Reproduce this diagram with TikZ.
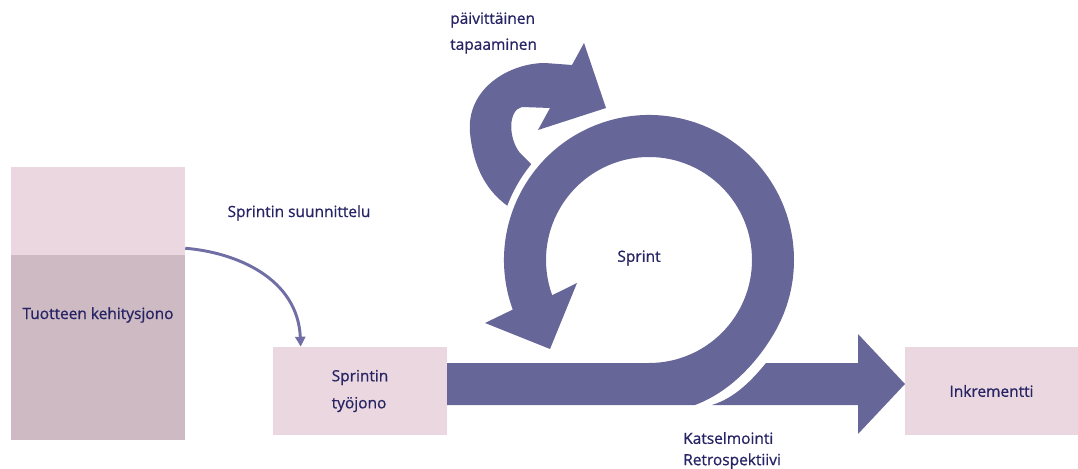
\documentclass[tikz,border=0pt]{standalone}
\usepackage{fontspec}
\setmainfont{Open Sans}[FakeBold=0.8]
\usetikzlibrary{calc,arrows.meta}
\definecolor{pinkA}{RGB}{235,215,223}
\definecolor{pinkB}{RGB}{206,186,194}
\definecolor{scrum}{RGB}{103,102,153}
\definecolor{navy}{RGB}{38,36,100}
\definecolor{conncol}{RGB}{112,110,165}
\begin{document}
\begin{tikzpicture}[x=0.75pt,y=0.75pt,
  lbl/.style={text=navy, font=\fontsize{11.6}{14}\selectfont, inner sep=0},
  box/.style={fill=pinkA, draw=none, inner sep=0, minimum height=66pt},
  conn/.style={draw=conncol, line width=2.2pt, -{Triangle[length=7.5pt,width=7.5pt]}}]
\useasboundingbox (0,0) rectangle (1078,468);
\coordinate (C) at (649,208);
% boxes
\node[box, minimum width=130.5pt] (bt) at (98,257) {};
\node[box, fill=pinkB, minimum width=130.5pt, minimum height=138.75pt] (bb) at (98,120.5) {};
\node[lbl] (tk) at (98,153) {Tuotteen kehitysjono};
\node[box, minimum width=130.5pt] (sbl) at (360,77) {};
\node[lbl, align=left, font=\fontsize{11.6}{20.3}\selectfont] (sblt) at (sbl.center) {Sprintin\\työjono};
\node[box, minimum width=129.75pt] (ink) at (991.5,77) {};
\node[lbl] (inkt) at (ink.center) {Inkrementti};
% outgoing bar
\fill[scrum] (766,105) -- (858,105) -- (858,134) -- (905,84) -- (858,34) -- (858,63) -- (712,63) .. controls (735,70) and (752,88) .. (766,105) -- cycle;
% daily loop
\fill[scrum] (530,250) .. controls (500,262) and (475,285) .. (470,335) .. controls (466,380) and (510,405) .. (545,405) -- (572,403) -- (584,425) -- (606,360) -- (538,338) -- (550,360) -- (522,361) .. controls (508,358) and (508,330) .. (520,315) -- (545,290) -- cycle;
\draw[white, line width=10pt] ($(C)+(95:145)$) arc[start angle=95,end angle=205,radius=145];
% sprint ring
\fill[scrum] (447,63) -- (447,105) -- (649,105) arc[start angle=-90,end angle=200,radius=103] -- (577,185) -- (550,119) -- (485,145) -- ($(C)+(200:145)$) arc[start angle=200,end angle=-29,radius=145] .. controls (762,113) and (735,78) .. (695,63) -- cycle;
% labels
\node[lbl, align=left, anchor=west, font=\fontsize{11.6}{19.5}\selectfont] (daily) at (450,435) {päivittäinen\\tapaaminen};
\node[lbl] (plan) at (299,255) {Sprintin suunnittelu};
\node[lbl] (sprint) at (639,210) {Sprint};
\node[lbl, align=left, anchor=west, font=\fontsize{11.6}{16}\selectfont] (rev) at (683,17.5) {Katselmointi\\Retrospektiivi};
% connector
\draw[conn] ($(bt.south east)+(0,7)$) .. controls +(50,-4) and +(-3,69) .. ($(sbl.north west)+(28,0)$);
\end{tikzpicture}
\end{document}
